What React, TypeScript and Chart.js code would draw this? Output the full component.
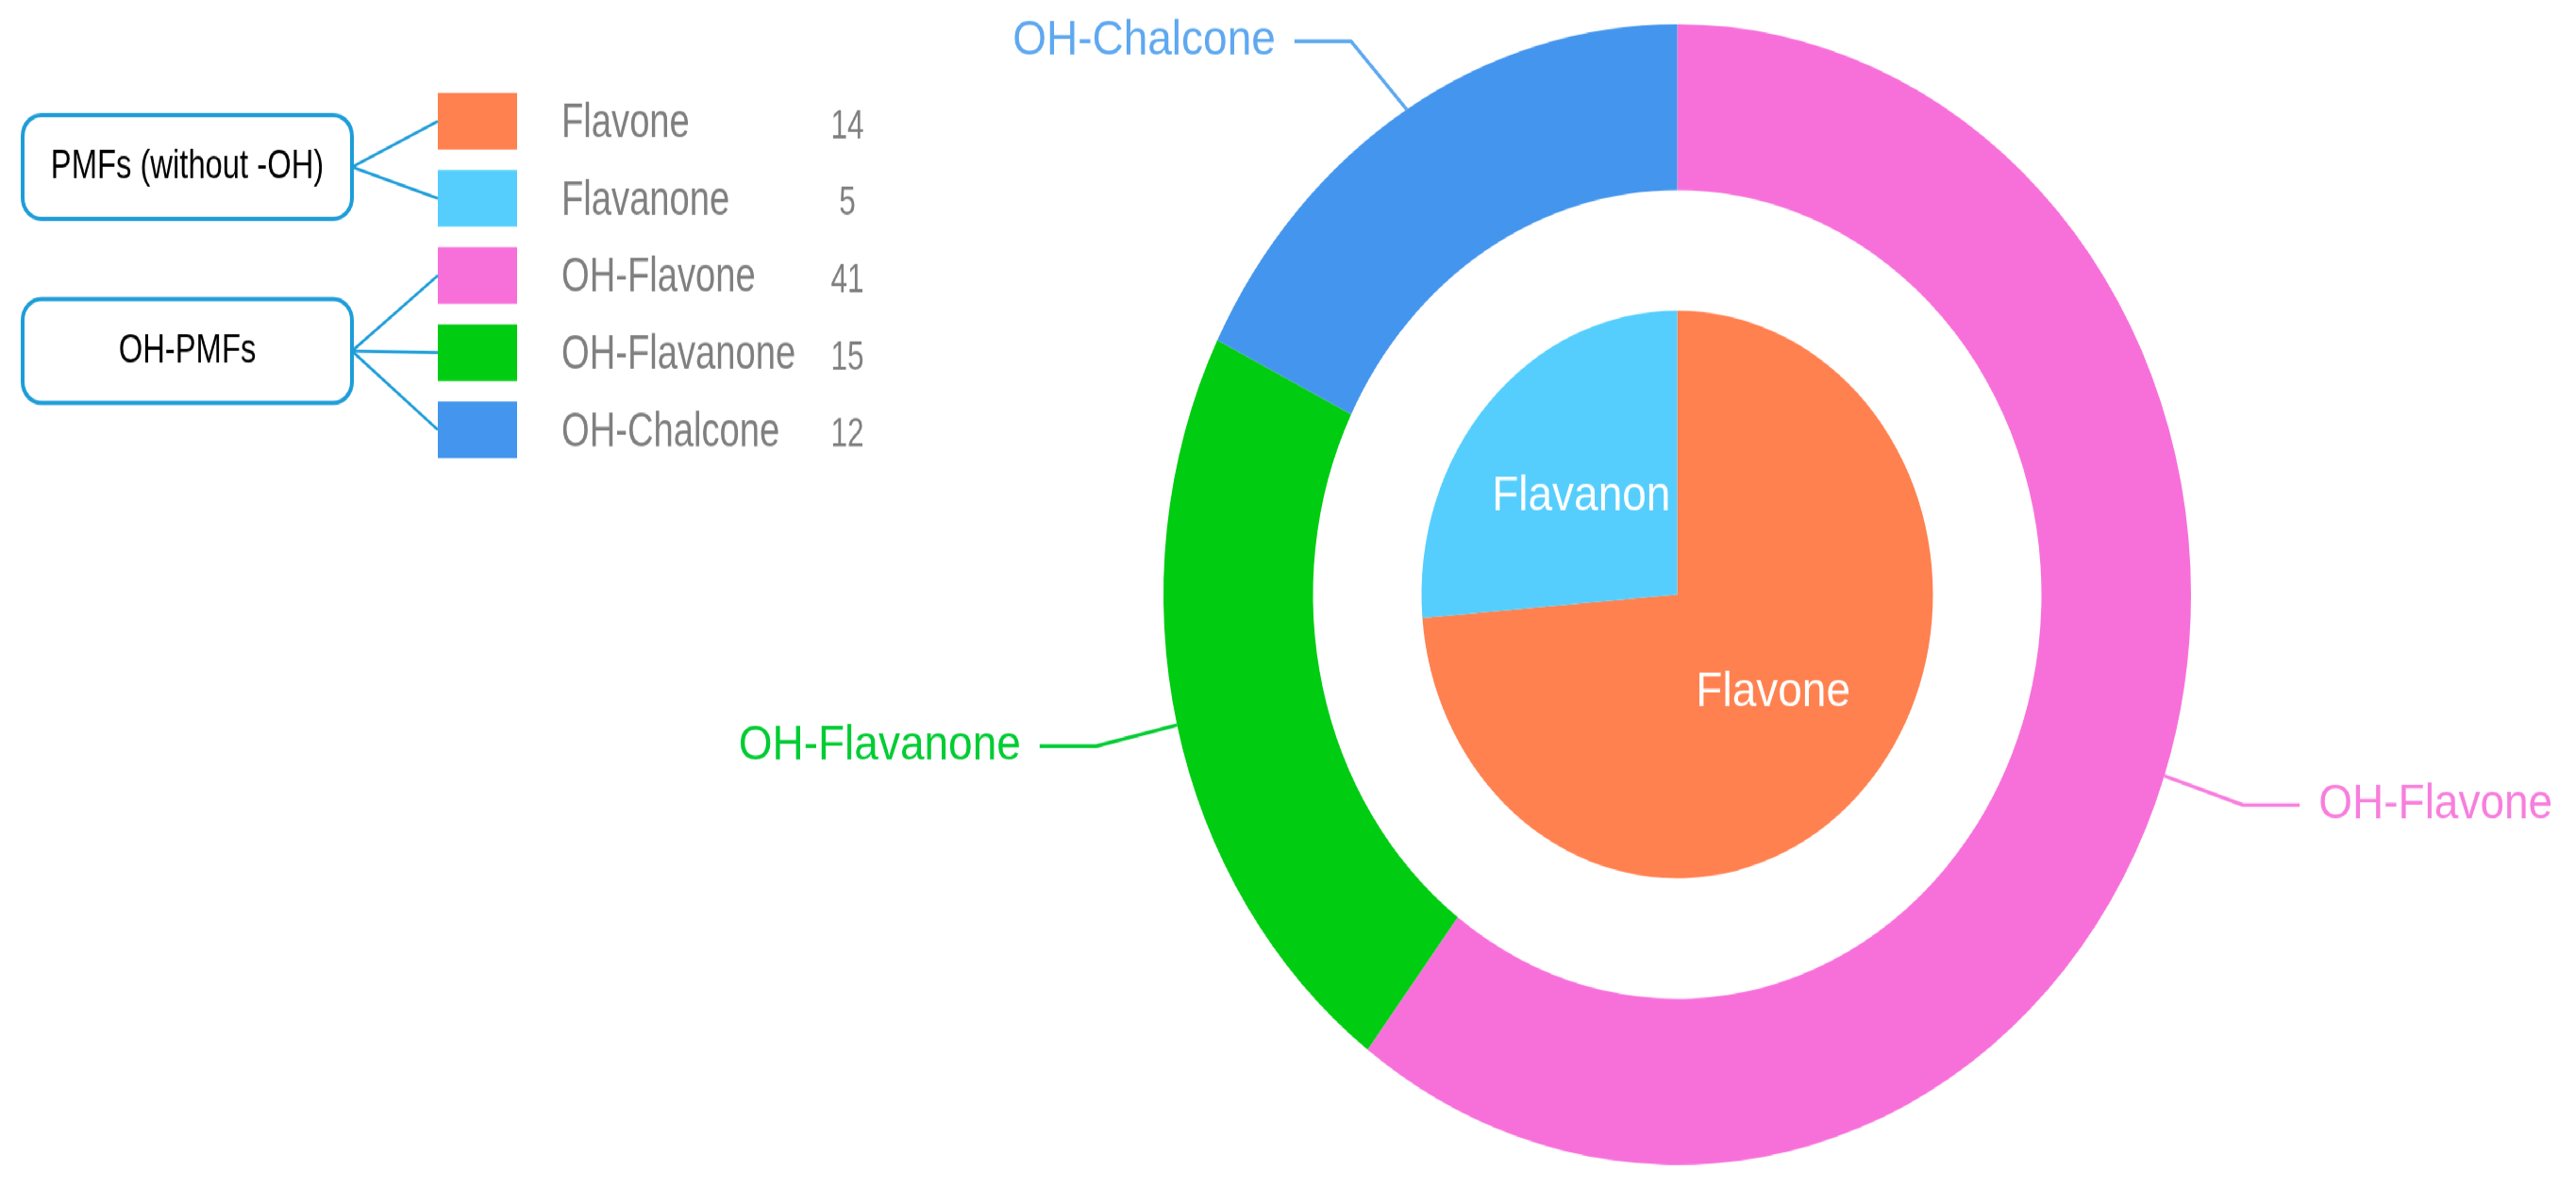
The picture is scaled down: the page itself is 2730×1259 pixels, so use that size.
import React, { useEffect, useRef } from 'react';
import { Chart, registerables } from 'chart.js';

Chart.register(...registerables);

// ---- data ----
const innerLabels = ['Flavone', 'Flavanone'];
const innerValues = [14, 5];
const innerColors = ['#FF8150', '#55CEFD'];

const outerLabels = ['OH-Flavone', 'OH-Flavanone', 'OH-Chalcone'];
const outerValues = [41, 15, 12];
const outerColors = ['#F770DA', '#00CC11', '#4495ED'];
const outerLabelColors = ['#F77EDD', '#00CC33', '#5EA8F0'];

const groupNames = ['PMFs (without -OH)', 'OH-PMFs'];
const groupSizes = [2, 3];

// ---- layout ----
const W = 2730;
const H_FULL = 1259;
const H = 1134;
const SY = H_FULL / H;
const FONT = '"Liberation Sans", Arial, Helvetica, sans-serif';
const u = (y: number) => y / SY;

function truncate(ctx: CanvasRenderingContext2D, text: string, maxW: number) {
  let t = text;
  while (t.length > 1 && ctx.measureText(t).width > maxW) t = t.slice(0, -1);
  return t;
}

function condensed(ctx: CanvasRenderingContext2D, text: string, x: number, y: number, sx: number, align: CanvasTextAlign) {
  ctx.save();
  ctx.translate(x, y);
  ctx.scale(sx, 1);
  ctx.textAlign = align;
  ctx.textBaseline = 'middle';
  ctx.fillText(text, 0, 0);
  ctx.restore();
}

const drawPlugin = {
  id: 'customDraw',
  afterDatasetsDraw(chart: any) {
    const ctx: CanvasRenderingContext2D = chart.ctx;
    ctx.save();

    // outer ring labels with leader lines
    const outerMeta = chart.getDatasetMeta(0);
    outerMeta.data.forEach((arc: any, i: number) => {
      const p = arc.getProps(['x', 'y', 'startAngle', 'endAngle', 'outerRadius'], true);
      const mid = (p.startAngle + p.endAngle) / 2;
      const c = Math.cos(mid), s = Math.sin(mid);
      const x0 = p.x + c * p.outerRadius;
      const y0 = p.y + s * p.outerRadius;
      const L1 = 88;
      let x1 = x0 + c * L1;
      let y1 = y0 + s * L1;
      const minY = 39.3;
      if (y1 < minY) {
        const dy = minY - y0;
        const dx = Math.sqrt(Math.max(L1 * L1 - dy * dy, 0));
        y1 = minY;
        x1 = x0 + Math.sign(c) * dx;
      }
      const dir = c < 0 ? -1 : 1;
      const x2 = x1 + dir * 60;
      ctx.strokeStyle = outerLabelColors[i];
      ctx.lineWidth = 3.5;
      ctx.lineJoin = 'round';
      ctx.beginPath();
      ctx.moveTo(x0, y0);
      ctx.lineTo(x1, y1);
      ctx.lineTo(x2, y1);
      ctx.stroke();
      ctx.fillStyle = outerLabelColors[i];
      ctx.font = `46px ${FONT}`;
      ctx.textAlign = dir < 0 ? 'right' : 'left';
      ctx.textBaseline = 'middle';
      ctx.fillText(outerLabels[i], x2 + dir * 20, y1);
    });

    // inner pie labels
    const innerMeta = chart.getDatasetMeta(2);
    innerMeta.data.forEach((arc: any, i: number) => {
      const p = arc.getProps(['x', 'y', 'startAngle', 'endAngle', 'outerRadius'], true);
      const mid = (p.startAngle + p.endAngle) / 2;
      const r = p.outerRadius * 0.51;
      ctx.font = `46px ${FONT}`;
      ctx.fillStyle = '#FFFFFF';
      ctx.textAlign = 'center';
      ctx.textBaseline = 'middle';
      const t = truncate(ctx, innerLabels[i], 200);
      ctx.fillText(t, p.x + Math.cos(mid) * r, p.y + Math.sin(mid) * r);
    });

    // left legend panel
    const names = [...innerLabels, ...outerLabels];
    const counts = [...innerValues, ...outerValues];
    const colors = [...innerColors, ...outerColors];
    const rowY0 = 128.5, rowPitch = 81.75;
    const sqX = 464, sqW = 84, sqH = 60;
    const nameX = 595, numX = 898;
    const rowY = (k: number) => rowY0 + k * rowPitch;

    names.forEach((n, k) => {
      const cy = rowY(k);
      ctx.fillStyle = colors[k];
      ctx.fillRect(sqX, u(cy - sqH / 2), sqW, u(sqH));
      ctx.fillStyle = '#7F7F7F';
      ctx.font = `46px ${FONT}`;
      condensed(ctx, n, nameX, u(cy + 3), 0.83, 'left');
      ctx.font = `38px ${FONT}`;
      condensed(ctx, String(counts[k]), numX, u(cy + 6), 0.83, 'center');
    });

    const boxTops = [122, 317];
    const boxH = 110, boxX = 24, boxW = 349;
    let start = 0;
    groupNames.forEach((g, gi) => {
      const top = boxTops[gi];
      const cy = top + boxH / 2;
      ctx.strokeStyle = '#1E9DD8';
      ctx.lineWidth = 4;
      ctx.beginPath();
      if ((ctx as any).roundRect) {
        (ctx as any).roundRect(boxX, u(top), boxW, u(boxH), 20);
      } else {
        ctx.rect(boxX, u(top), boxW, u(boxH));
      }
      ctx.stroke();
      ctx.fillStyle = '#000000';
      ctx.font = `39px ${FONT}`;
      condensed(ctx, g, boxX + boxW / 2, u(cy), 0.84, 'center');
      ctx.lineWidth = 2.8;
      for (let k = start; k < start + groupSizes[gi]; k++) {
        ctx.beginPath();
        ctx.moveTo(boxX + boxW, u(cy));
        ctx.lineTo(sqX, u(rowY(k)));
        ctx.stroke();
      }
      start += groupSizes[gi];
    });

    ctx.restore();
  },
};

export default function App() {
  const ref = useRef<HTMLCanvasElement>(null);
  useEffect(() => {
    document.body.style.margin = '0';
    document.body.style.overflow = 'hidden';
    const chart = new Chart(ref.current as HTMLCanvasElement, {
      type: 'doughnut',
      data: {
        labels: outerLabels,
        datasets: [
          { data: outerValues, backgroundColor: outerColors, borderWidth: 0, weight: 158.5 } as any,
          { data: [1], backgroundColor: ['rgba(0,0,0,0)'], borderWidth: 0, weight: 115 } as any,
          { data: innerValues, backgroundColor: innerColors, borderWidth: 0, weight: 271 } as any,
        ],
      },
      options: {
        animation: false,
        responsive: false,
        devicePixelRatio: 1,
        events: [],
        cutout: 0,
        rotation: 0,
        hoverOffset: 0,
        layout: { padding: { left: 1233, right: 408, top: 23, bottom: 22 } },
        plugins: {
          legend: { display: false },
          tooltip: { enabled: false },
        },
      } as any,
      plugins: [drawPlugin],
    });
    return () => chart.destroy();
  }, []);

  return (
    <div
      style={{
        position: 'absolute',
        left: 0,
        top: 0,
        width: W,
        height: H,
        transform: `scaleY(${SY})`,
        transformOrigin: '0 0',
        background: '#FFFFFF',
      }}
    >
      <canvas ref={ref} width={W} height={H} style={{ width: W, height: H, display: 'block' }} />
    </div>
  );
}
